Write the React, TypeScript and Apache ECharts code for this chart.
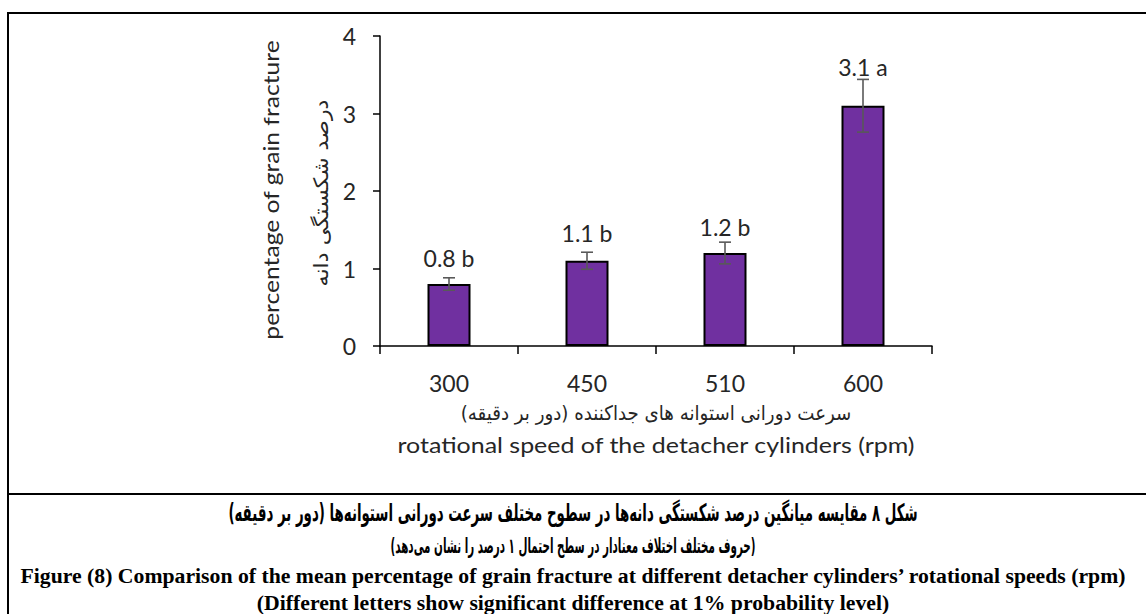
import React, { useEffect, useRef } from "react";
import * as echarts from "echarts";

const categories = ["300", "450", "510", "600"];
const means = [0.8, 1.1, 1.2, 3.1];
const errors = [0.08, 0.11, 0.14, 0.34];
const letters = ["b", "b", "b", "a"];
const labelDistances = [15, 16, 15, 27];

const yTitleEn = "percentage of grain fracture";
const yTitleFa = "درصد شکستگی دانه";
const xTitleFa = "سرعت دورانی استوانه های جداکننده (دور بر دقیقه)";
const xTitleEn = "rotational speed of the detacher cylinders (rpm)";
const caption1 = "شکل ۸ مقایسه میانگین درصد شکستگی دانه‌ها در سطوح مختلف سرعت دورانی استوانه‌ها (دور بر دقیقه)";
const caption2 = "(حروف مختلف اختلاف معنادار در سطح احتمال ۱ درصد را نشان می‌دهد)";
const caption3 = "Figure (8) Comparison of the mean percentage of grain fracture at different detacher cylinders’ rotational speeds (rpm)";
const caption4 = "(Different letters show significant difference at 1% probability level)";

const rtl = (s: string) => "\u200F" + s + "\u200F";

let measureCtx: CanvasRenderingContext2D | null = null;
const measure = (text: string, font: string) => {
  if (!measureCtx) measureCtx = document.createElement("canvas").getContext("2d");
  measureCtx!.font = font;
  return measureCtx!.measureText(text).width || 1;
};

const fitText = (
  text: string,
  font: string,
  cx: number,
  cy: number,
  targetW: number,
  rotate = false,
  fill = "#000"
) => ({
  type: "text",
  x: cx,
  y: cy,
  rotation: rotate ? Math.PI / 2 : 0,
  scaleX: targetW / measure(text, font),
  scaleY: 1,
  silent: true,
  style: { text, font, fill, textAlign: "center", textVerticalAlign: "middle" },
});

export default function App() {
  const ref = useRef<HTMLDivElement>(null);
  useEffect(() => {
    document.body.style.margin = "0";
    const chart = echarts.init(ref.current!, null, { renderer: "svg" });
    const chartFont = "Lato";
    const enCapFont = "bold 20px 'Liberation Serif'";
    const enScale = 1108 / measure(caption3, enCapFont);
    const option: any = {
      animation: false,
      backgroundColor: "#fff",
      grid: { left: 380, right: 214, top: 36, bottom: 268, containLabel: false },
      xAxis: {
        type: "category",
        data: categories,
        axisLine: { lineStyle: { color: "#000", width: 1.5 } },
        axisTick: { show: true, interval: 0, length: 8, lineStyle: { color: "#000", width: 1.5 } },
        axisLabel: { fontSize: 23, fontFamily: chartFont, color: "#262626", margin: 25 },
      },
      yAxis: {
        type: "value",
        min: 0,
        max: 4,
        interval: 1,
        splitLine: { show: false },
        axisLine: { show: true, lineStyle: { color: "#000", width: 1.5 } },
        axisTick: { show: true, length: 7, lineStyle: { color: "#000", width: 1.5 } },
        axisLabel: { fontSize: 23, fontFamily: chartFont, color: "#262626", margin: 24 },
      },
      series: [
        {
          type: "bar",
          barWidth: 43,
          data: means.map((v, i) => ({ value: v, label: { distance: labelDistances[i] } })),
          itemStyle: { color: "#7030A0", borderColor: "#000", borderWidth: 2 },
          label: {
            show: true,
            position: "top",
            fontSize: 23,
            fontFamily: chartFont,
            color: "#262626",
            formatter: (p: any) => `${p.value} ${letters[p.dataIndex]}`,
          },
          z: 2,
        },
        {
          type: "custom",
          data: means.map((m, i) => [i, m - errors[i], m + errors[i]]),
          renderItem: (params: any, api: any) => {
            const x = api.value(0);
            const lo = api.coord([x, api.value(1)]);
            const hi = api.coord([x, api.value(2)]);
            const half = 6;
            const st = { stroke: "#595959", lineWidth: 1.6 };
            return {
              type: "group",
              children: [
                { type: "line", shape: { x1: lo[0], y1: lo[1], x2: hi[0], y2: hi[1] }, style: st },
                { type: "line", shape: { x1: lo[0] - half, y1: lo[1], x2: lo[0] + half, y2: lo[1] }, style: st },
                { type: "line", shape: { x1: hi[0] - half, y1: hi[1], x2: hi[0] + half, y2: hi[1] }, style: st },
              ],
            };
          },
          z: 5,
        },
      ],
      graphic: [
        { type: "line", silent: true, shape: { x1: 7, y1: 13, x2: 1146, y2: 13 }, style: { stroke: "#000", lineWidth: 2 } },
        { type: "line", silent: true, shape: { x1: 8, y1: 12, x2: 8, y2: 614 }, style: { stroke: "#000", lineWidth: 2 } },
        { type: "line", silent: true, shape: { x1: 7, y1: 494, x2: 1146, y2: 494 }, style: { stroke: "#000", lineWidth: 2 } },
        fitText(yTitleEn, "21px Lato", 271, 190, 300, true, "#262626"),
        fitText(rtl(yTitleFa), "20px 'DejaVu Sans'", 321, 193, 187, true, "#262626"),
        fitText(rtl(xTitleFa), "20px 'DejaVu Sans'", 656, 413, 391, false, "#262626"),
        fitText(xTitleEn, "21px Lato", 656, 445, 518, false, "#262626"),
        fitText(rtl(caption1), "bold 24px 'DejaVu Sans'", 573, 513, 690, false, "#000"),
        fitText(rtl(caption2), "bold 21px 'DejaVu Sans'", 573, 546, 365, false, "#000"),
        {
          type: "text", x: 573, y: 576, scaleX: enScale, scaleY: 1, silent: true,
          style: { text: caption3, font: enCapFont, fill: "#000", textAlign: "center", textVerticalAlign: "middle" },
        },
        {
          type: "text", x: 573, y: 603, scaleX: enScale, scaleY: 1, silent: true,
          style: { text: caption4, font: enCapFont, fill: "#000", textAlign: "center", textVerticalAlign: "middle" },
        },
      ],
    };
    chart.setOption(option);
    return () => chart.dispose();
  }, []);
  return <div ref={ref} style={{ width: 1146, height: 614 }} />;
}
